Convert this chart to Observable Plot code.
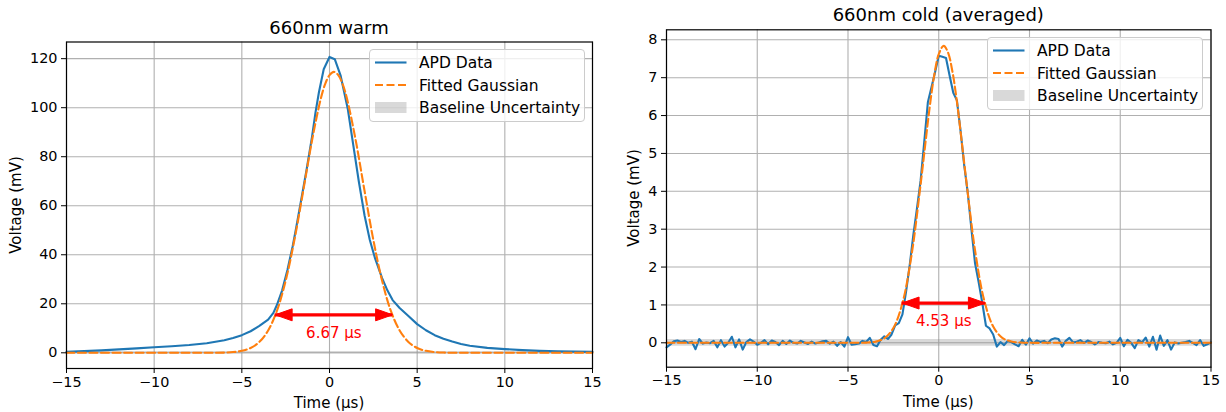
<!DOCTYPE html>
<html><head><meta charset="utf-8">
<script src="https://cdn.jsdelivr.net/npm/d3@7"></script>
<script src="https://cdn.jsdelivr.net/npm/@observablehq/plot@0.6"></script>
<style>
body{margin:0;background:#fff;}
#root{position:relative;width:1226px;height:412px;font-family:"DejaVu Sans",sans-serif;overflow:hidden;color:#000}
#root > svg{position:absolute;top:0}
.lbl{position:absolute;white-space:nowrap;line-height:1}
.legend{position:absolute;box-sizing:border-box;border:1px solid #cccccc;border-radius:4px;background:rgba(255,255,255,0.8)}
.legend svg{position:absolute;left:-1px;top:-1px;overflow:visible}
</style></head><body><div id="root"></div><script>
// ---------- data ----------
const titles = ["660nm warm", "660nm cold (averaged)"];
const xLabel = "Time (µs)";
const yLabel = "Voltage (mV)";
const seriesNames = ["APD Data", "Fitted Gaussian", "Baseline Uncertainty"];
const xTicks = [-15, -10, -5, 0, 5, 10, 15];
const warmYTicks = [0, 20, 40, 60, 80, 100, 120];
const coldYTicks = [0, 1, 2, 3, 4, 5, 6, 7, 8];

// warm: [time µs, voltage mV]
const warmAPD = [[-15,0.4],[-14,0.7],[-13,1.0],[-12,1.4],[-11,1.8],[-10,2.3],[-9,2.7],[-8,3.2],[-7,3.9],[-6,5.1],[-5.5,6.0],[-5,7.2],[-4.5,8.8],[-4,11.0],[-3.5,13.5],[-3.2,16.3],[-3,19.5],[-2.7,25.5],[-2.4,33.8],[-2.1,43.5],[-1.9,51],[-1.6,63],[-1.3,75],[-1.0,88],[-0.8,98],[-0.6,106.4],[-0.33,115.7],[0,120.7],[0.3,119.8],[0.63,113.2],[1.04,99.6],[1.35,85],[1.67,70],[2.0,56],[2.3,46],[2.6,38.5],[3.0,30.5],[3.3,25.5],[3.6,21.5],[4.0,18.3],[4.5,15],[5.0,11.7],[5.5,9.2],[6,7.2],[6.5,5.7],[7,4.6],[7.5,3.6],[8,2.9],[9,2.0],[10,1.5],[11,1.1],[12,0.8],[13,0.6],[14,0.5],[15,0.4]];
const warmFit = [[-15,0],[-10,0],[-8,0],[-7,0.01],[-6.5,0.03],[-6,0.10],[-5.5,0.30],[-5,0.80],[-4.5,1.98],[-4,4.45],[-3.5,9.12],[-3,17.1],[-2.5,29.4],[-2,46.1],[-1.5,66.0],[-1,86.5],[-0.5,103.6],[-0.25,109.6],[0,113.3],[0.25,114.6],[0.5,113.3],[0.75,109.6],[1,103.6],[1.5,86.5],[2,66.0],[2.5,46.1],[3,29.4],[3.5,17.1],[4,9.12],[4.5,4.45],[5,1.98],[5.5,0.80],[6,0.30],[6.5,0.10],[7,0.03],[7.5,0.01],[8,0],[10,0],[15,0]];
const warmBaseline = [-0.5, 0.5];
const warmWidth = [{x1: -3.1, x2: 3.6, y: 15.5, label: "6.67 µs"}];

// cold: [time µs, voltage mV]
const coldAPD = [[-15.0,-0.12],[-14.8,-0.05],[-14.6,0.04],[-14.4,0.06],[-14.2,0.02],[-14.0,0.05],[-13.8,0.00],[-13.6,0.03],[-13.4,-0.17],[-13.2,0.10],[-13.0,-0.02],[-12.8,0.01],[-12.6,-0.01],[-12.4,0.05],[-12.2,-0.12],[-12.0,0.07],[-11.8,-0.10],[-11.6,0.00],[-11.4,0.16],[-11.2,-0.12],[-11.0,0.09],[-10.8,-0.18],[-10.6,0.02],[-10.4,0.09],[-10.2,0.03],[-10.0,-0.05],[-9.8,0.00],[-9.6,0.07],[-9.4,-0.04],[-9.2,0.06],[-9.0,0.02],[-8.8,-0.06],[-8.6,0.05],[-8.4,-0.03],[-8.2,0.06],[-8.0,0.00],[-7.8,-0.02],[-7.6,0.05],[-7.4,0.01],[-7.2,-0.03],[-7.0,0.03],[-6.8,-0.02],[-6.6,0.01],[-6.4,0.04],[-6.2,0.05],[-6.0,-0.02],[-5.8,0.03],[-5.6,-0.08],[-5.4,0.02],[-5.2,-0.10],[-5.0,0.15],[-4.8,-0.05],[-4.6,-0.04],[-4.4,-0.02],[-4.2,0.05],[-4.0,0.02],[-3.8,0.13],[-3.6,-0.06],[-3.4,-0.09],[-3.2,0.08],[-3.0,0.17],[-2.8,0.10],[-2.6,0.22],[-2.4,0.46],[-2.2,0.52],[-2.0,0.75],[-1.8,1.35],[-1.6,2.05],[-1.4,2.85],[-1.2,3.55],[-1.0,4.28],[-0.8,5.3],[-0.6,6.35],[-0.4,6.75],[-0.2,7.15],[0.0,7.58],[0.2,7.55],[0.4,7.52],[0.6,7.05],[0.8,6.6],[1.0,6.4],[1.2,5.6],[1.4,4.7],[1.6,3.95],[1.8,3.0],[2.0,2.1],[2.2,1.6],[2.4,1.05],[2.6,0.45],[2.8,0.38],[3.0,0.22],[3.2,-0.10],[3.4,0.02],[3.6,-0.06],[3.8,0.05],[4.0,0.02],[4.2,-0.04],[4.4,-0.09],[4.6,0.08],[4.8,-0.05],[5.0,0.12],[5.2,-0.02],[5.4,0.06],[5.6,0.02],[5.8,0.05],[6.0,-0.01],[6.2,0.09],[6.4,0.12],[6.6,0.10],[6.8,-0.10],[7.0,0.05],[7.2,0.13],[7.4,0.01],[7.6,0.03],[7.8,0.07],[8.0,0.00],[8.2,0.06],[8.4,0.02],[8.6,-0.04],[8.8,0.02],[9.0,0.00],[9.2,-0.01],[9.4,0.03],[9.6,-0.04],[9.8,0.00],[10.0,0.13],[10.2,-0.09],[10.4,0.08],[10.6,0.00],[10.8,-0.14],[11.0,0.07],[11.2,0.01],[11.4,0.14],[11.6,-0.10],[11.8,0.16],[12.0,-0.18],[12.2,0.19],[12.4,-0.08],[12.6,0.07],[12.8,-0.18],[13.0,0.01],[13.2,-0.02],[13.4,0.00],[13.6,0.02],[13.8,0.05],[14.0,0.00],[14.2,-0.06],[14.4,0.07],[14.6,-0.08],[14.8,-0.04],[15.0,0.01]];
const coldFit = [[-15,0],[-10,0],[-6,0],[-5,0],[-4.5,0.001],[-4,0.006],[-3.5,0.03],[-3,0.12],[-2.5,0.39],[-2,1.05],[-1.5,2.31],[-1,4.18],[-0.5,6.22],[-0.25,7.06],[0,7.62],[0.27,7.84],[0.5,7.68],[0.75,7.17],[1,6.37],[1.5,4.35],[2,2.44],[2.5,1.13],[3,0.43],[3.5,0.13],[4,0.035],[4.5,0.007],[5,0],[6,0],[10,0],[15,0]];
const coldBaseline = [-0.09, 0.09];
const coldWidth = [{x1: -2.02, x2: 2.57, y: 1.05, label: "4.53 µs"}];

// ---------- styling ----------
const BLUE = "#1f77b4", ORANGE = "#ff7f0e", GRID = "#b0b0b0";
const fmt = d3.format("d");
const headL = {draw(c){ c.moveTo(0,0); c.lineTo(17,-6); c.lineTo(17,6); c.closePath(); }};
const headR = {draw(c){ c.moveTo(0,0); c.lineTo(-17,-6); c.lineTo(-17,6); c.closePath(); }};
const root = document.getElementById("root");

function panel(o) {
  const band = [{t: -15, lo: o.band[0], hi: o.band[1]}, {t: 15, lo: o.band[0], hi: o.band[1]}];
  const svg = Plot.plot({
    width: o.width, height: 412,
    marginLeft: o.ml, marginRight: o.mr, marginTop: o.mt, marginBottom: o.mb,
    x: {domain: [-15, 15]},
    y: {domain: o.ydom},
    style: {fontFamily: "DejaVu Sans", fontSize: "14.4px", background: "transparent", color: "#000"},
    marks: [
      Plot.gridX({ticks: xTicks, stroke: GRID, strokeOpacity: 1, strokeWidth: 1.1}),
      Plot.gridY({ticks: o.yticks, stroke: GRID, strokeOpacity: 1, strokeWidth: 1.1}),
      Plot.areaY(band, {x: "t", y1: "lo", y2: "hi", fill: "gray", fillOpacity: 0.3}),
      Plot.line(o.apd, {x: d => d[0], y: d => d[1], stroke: BLUE, strokeWidth: 2.1}),
      Plot.line(o.fit, {x: d => d[0], y: d => d[1], stroke: ORANGE, strokeWidth: 2.1, strokeDasharray: "8,3.5", curve: "catmull-rom"}),
      Plot.ruleY(o.width_, {y: "y", x1: "x1", x2: "x2", stroke: "red", strokeWidth: 3.2}),
      Plot.dot(o.width_, {x: "x1", y: "y", symbol: headL, r: 5, fill: "red", stroke: "red", strokeWidth: 1}),
      Plot.dot(o.width_, {x: "x2", y: "y", symbol: headR, r: 5, fill: "red", stroke: "red", strokeWidth: 1}),
      Plot.text(o.width_, {x: d => (d.x1 + d.x2) / 2, y: "y", text: "label", dy: 18, fill: "red", fontSize: 15}),
      Plot.frame({stroke: "black", strokeWidth: 1.2}),
      Plot.axisX({ticks: xTicks, tickFormat: fmt, tickSize: 5, tickPadding: 3, label: null, fontSize: 14.4}),
      Plot.axisY({ticks: o.yticks, tickFormat: fmt, tickSize: 5, tickPadding: 4, label: null, fontSize: 14.4})
    ]
  });
  svg.style.left = o.left + "px";
  root.appendChild(svg);

  const cx = o.left + o.ml + (o.width - o.ml - o.mr) / 2;
  const cy = o.mt + (412 - o.mt - o.mb) / 2;
  const add = (html, style) => { const d = document.createElement("div"); d.className = "lbl"; d.textContent = html; Object.assign(d.style, style); root.appendChild(d); return d; };
  add(o.title, {left: cx + "px", top: o.titleY + "px", fontSize: "18px", transform: "translate(-50%,-50%)"});
  add(xLabel, {left: cx + "px", top: o.xlabY + "px", fontSize: "15px", transform: "translate(-50%,-50%)"});
  add(yLabel, {left: o.ylabX + "px", top: cy + "px", fontSize: "15px", transform: "translate(-50%,-50%) rotate(-90deg)"});

  // legend
  const lg = document.createElement("div");
  lg.className = "legend";
  const W = 216, H = 73;
  Object.assign(lg.style, {left: (o.left + o.width - o.mr - 7.2 - W) + "px", top: (o.mt + 7.2) + "px", width: W + "px", height: H + "px"});
  const rows = [13.5, 36, 58.5];
  lg.innerHTML = `<svg width="${W}" height="${H}" style="font-family:'DejaVu Sans';font-size:15.5px">
    <line x1="6" x2="37.5" y1="${rows[0]}" y2="${rows[0]}" stroke="${BLUE}" stroke-width="2.1"/>
    <text x="50" y="${rows[0]}" dy="0.36em">${seriesNames[0]}</text>
    <line x1="6" x2="37.5" y1="${rows[1]}" y2="${rows[1]}" stroke="${ORANGE}" stroke-width="2.1" stroke-dasharray="8,3.5"/>
    <text x="50" y="${rows[1]}" dy="0.36em">${seriesNames[1]}</text>
    <rect x="6" y="${rows[2]-5.5}" width="31.5" height="11" fill="gray" fill-opacity="0.3"/>
    <text x="50" y="${rows[2]}" dy="0.36em">${seriesNames[2]}</text>
  </svg>`;
  root.appendChild(lg);
}

panel({left: 0, width: 610, ml: 66, mr: 18, mt: 41.5, mb: 44, ydom: [-6.4, 126.8], yticks: warmYTicks,
  apd: warmAPD, fit: warmFit, band: warmBaseline, width_: warmWidth, title: titles[0], titleY: 28, xlabY: 403, ylabX: 16});
panel({left: 610, width: 616, ml: 56, mr: 15.5, mt: 29.3, mb: 45.3, ydom: [-0.644, 8.264], yticks: coldYTicks,
  apd: coldAPD, fit: coldFit, band: coldBaseline, width_: coldWidth, title: titles[1], titleY: 15, xlabY: 402, ylabX: 634});
</script></body></html>
